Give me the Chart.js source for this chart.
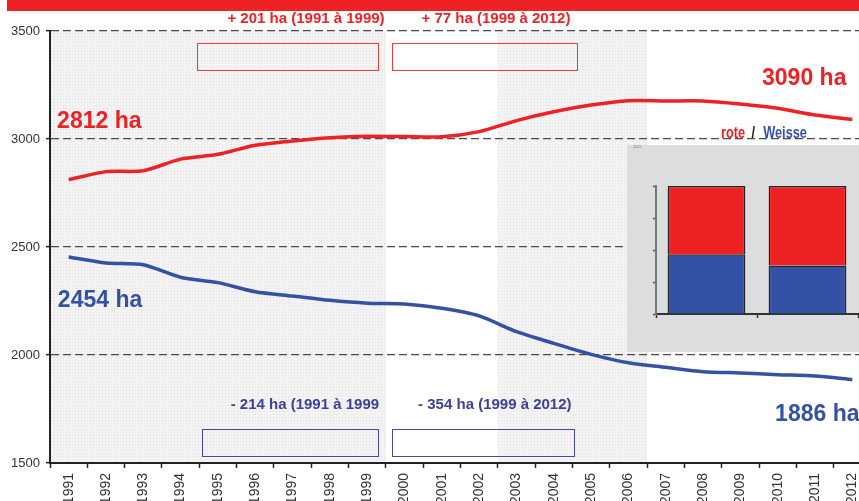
<!DOCTYPE html>
<html>
<head>
<meta charset="utf-8">
<script src="https://cdn.jsdelivr.net/npm/chart.js@4"></script>
<style>
  html, body { margin:0; padding:0; background:#fff; overflow:hidden; width:859px; height:501px; }
  #topbar { position:absolute; left:7px; top:0; width:880px; height:11px; background:#ee2224; }
  #main { position:absolute; left:0; top:0; width:880px; height:540px; }
  #inset { position:absolute; left:627px; top:145px; width:240px; height:207px; background:#dcdddf; }
</style>
</head>
<body>
<div id="main"><canvas id="c1"></canvas></div>
<div id="topbar"></div>
<div id="inset"><canvas id="c2"></canvas></div>
<script>
const years = ['1991','1992','1993','1994','1995','1996','1997','1998','1999','2000','2001','2002','2003','2004','2005','2006','2007','2008','2009','2010','2011','2012'];
const rote   = [2812, 2849, 2853, 2907, 2929, 2971, 2991, 3006, 3013, 3011, 3010, 3034, 3085, 3126, 3157, 3177, 3176, 3176, 3162, 3142, 3111, 3090];
const weisse = [2454, 2426, 2418, 2360, 2335, 2293, 2273, 2253, 2240, 2236, 2216, 2181, 2108, 2054, 2003, 1964, 1943, 1923, 1917, 1909, 1903, 1886];
const yTicks = [1500, 2000, 2500, 3000, 3500];
const shadedSpans = [['1991','1999'], ['2003','2006']];
const insetCats = ['1991', '2012'];
const insetWeisse = [46.6, 37.9];
const insetRote = [53.4, 62.1];

const RED = '#ee2224';
const BLUE = '#3451a4';
const BLUE2 = '#3d3f99';

function makePattern(ctx) {
  const t = document.createElement('canvas');
  t.width = 3; t.height = 3;
  const g = t.getContext('2d');
  g.fillStyle = '#f3f3f3'; g.fillRect(0,0,3,3);
  g.fillStyle = '#e2e2e2'; g.fillRect(0,0,1,1);
  return ctx.createPattern(t, 'repeat');
}

const bgPlugin = {
  id: 'bg',
  beforeDraw(chart) {
    const {ctx, chartArea: a, scales: {x}} = chart;
    const half = (x.getPixelForValue(1) - x.getPixelForValue(0)) / 2;
    ctx.save();
    ctx.fillStyle = makePattern(ctx);
    shadedSpans.forEach(([s, e]) => {
      const l = x.getPixelForValue(years.indexOf(s)) - half;
      const r = x.getPixelForValue(years.indexOf(e)) + half;
      ctx.fillRect(l, a.top, r - l, a.bottom - a.top);
    });
    ctx.restore();
  }
};

const annPlugin = {
  id: 'ann',
  afterDatasetsDraw(chart) {
    const {ctx, scales: {x, y}} = chart;
    const px = i => x.getPixelForValue(i);
    const py = v => y.getPixelForValue(v);
    ctx.save();
    const box = (i0, i1, v0, v1, col) => {
      ctx.strokeStyle = col; ctx.lineWidth = 1;
      const l = Math.round(px(i0)) + 0.5, r = Math.round(px(i1)) + 0.5;
      const t = Math.round(py(v0)) + 0.5, b = Math.round(py(v1)) + 0.5;
      ctx.strokeRect(l, t, r - l, b - t);
    };
    box(3.44, 8.29, 3444, 3319, '#ee3a3c');
    box(8.66, 13.61, 3444, 3319, '#ee3a3c');
    box(3.57, 8.29, 1656, 1531, '#4348a0');
    box(8.66, 13.55, 1656, 1531, '#4348a0');

    ctx.textBaseline = 'middle';
    ctx.font = 'bold 15px "Liberation Sans", Arial, sans-serif';
    ctx.textAlign = 'center';
    ctx.fillStyle = RED;
    ctx.fillText('+ 201 ha (1991 à 1999)', px(6.36), py(3556));
    ctx.fillText('+ 77 ha (1999 à 2012)', px(11.45), py(3556));
    ctx.fillStyle = BLUE2;
    ctx.fillText('- 214 ha (1991 à 1999', px(6.33), py(1769));
    ctx.fillText('- 354 ha (1999 à 2012)', px(11.42), py(1769));

    ctx.font = 'bold 23px "Liberation Sans", Arial, sans-serif';
    ctx.textAlign = 'left';
    ctx.fillStyle = RED;
    ctx.fillText('2812 ha', px(-0.31), py(3079));
    ctx.fillText('3090 ha', px(18.58), py(3278));
    ctx.fillStyle = BLUE;
    ctx.fillText('2454 ha', px(-0.29), py(2250));
    ctx.fillText('1886 ha', px(18.93), py(1722));

    ctx.textBaseline = 'alphabetic';
    ctx.font = 'bold 17px "Liberation Sans", Arial, sans-serif';
    const bx = px(17.48), by = py(3005);
    ctx.translate(bx, by);
    ctx.scale(0.75, 1);
    let cx = 0;
    ctx.fillStyle = RED; ctx.fillText('rote', cx, 0); cx += ctx.measureText('rote ').width + 4;
    ctx.fillStyle = '#222'; ctx.fillText('/', cx, 0); cx += ctx.measureText('/ ').width + 6;
    ctx.fillStyle = BLUE; ctx.fillText('Weisse', cx, 0);
    ctx.restore();
  }
};

new Chart(document.getElementById('c1'), {
  type: 'line',
  data: {
    labels: years,
    datasets: [
      { label: 'rote', data: rote, borderColor: RED, borderWidth: 3.5, pointRadius: 0, tension: 0.25, fill: false },
      { label: 'Weisse', data: weisse, borderColor: BLUE, borderWidth: 3.5, pointRadius: 0, tension: 0.25, fill: false }
    ]
  },
  options: {
    responsive: true,
    maintainAspectRatio: false,
    animation: false,
    layout: { padding: { top: 31, right: 9, left: 0, bottom: 0 } },
    plugins: { legend: { display: false }, tooltip: { enabled: false } },
    scales: {
      x: {
        offset: true,
        grid: { offset: true, drawOnChartArea: false, drawTicks: true, tickLength: 5, tickColor: '#222', tickWidth: 1.5 },
        border: { display: true, color: '#222', width: 2 },
        ticks: { autoSkip: false, maxRotation: 90, minRotation: 90, padding: 5, color: '#333', font: { family: '"Liberation Sans", Arial, sans-serif', size: 14 } },
        afterFit(s) { s.height = 77; }
      },
      y: {
        min: 1500, max: 3500,
        afterBuildTicks(s) { s.ticks = yTicks.map(v => ({ value: v })); },
        grid: {
          color: ctx => (ctx.tick && ctx.tick.value === 1500) ? 'rgba(0,0,0,0)' : '#4a4a4a',
          lineWidth: 1.3, tickLength: 4, tickColor: '#222', tickWidth: 1.5
        },
        border: { display: true, color: '#222', width: 2, dash: [8, 4] },
        ticks: { padding: 6, color: '#333', font: { family: '"Liberation Sans", Arial, sans-serif', size: 13 }, callback: v => String(v) },
        afterFit(s) { s.width = 50; }
      }
    }
  },
  plugins: [bgPlugin, annPlugin]
});

const insetText = {
  id: 'insetText',
  afterDraw(chart) {
    const {ctx} = chart;
    ctx.save();
    ctx.font = '5px "Liberation Sans", Arial, sans-serif';
    ctx.fillStyle = '#888';
    ctx.textAlign = 'center';
    ctx.fillText('100', chart.scales.y.left + 10, 3);
    ctx.restore();
  }
};

new Chart(document.getElementById('c2'), {
  type: 'bar',
  data: {
    labels: insetCats,
    datasets: [
      { label: 'Weisse', data: insetWeisse, backgroundColor: '#3452a5', borderColor: '#222', borderWidth: 1.5, barPercentage: 0.77, categoryPercentage: 1 },
      { label: 'rote', data: insetRote, backgroundColor: RED, borderColor: '#222', borderWidth: 1.5, barPercentage: 0.77, categoryPercentage: 1 }
    ]
  },
  options: {
    responsive: true,
    maintainAspectRatio: false,
    animation: false,
    layout: { padding: { top: 41, right: 9, left: 0, bottom: 0 } },
    plugins: { legend: { display: false }, tooltip: { enabled: false } },
    scales: {
      x: {
        stacked: true,
        grid: { offset: true, drawOnChartArea: false, tickLength: 4, tickColor: '#333', tickWidth: 1.5 },
        border: { display: true, color: '#333', width: 2 },
        ticks: { display: false },
        afterFit(s) { s.height = 38; }
      },
      y: {
        stacked: true, min: 0, max: 100,
        ticks: { display: false, stepSize: 25 },
        grid: { drawOnChartArea: false, tickLength: 3, tickColor: '#555', tickWidth: 1.5 },
        border: { display: true, color: '#777', width: 2 },
        afterFit(s) { s.width = 29; }
      }
    }
  },
  plugins: [insetText]
});
</script>
</body>
</html>
